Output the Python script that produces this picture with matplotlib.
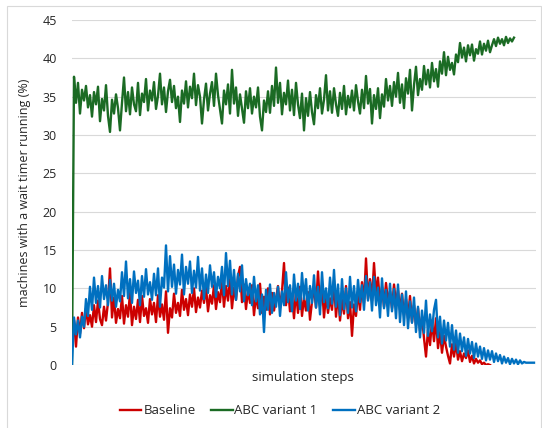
import numpy as np
import matplotlib
matplotlib.use("Agg")
import matplotlib.pyplot as plt
from matplotlib.patches import Rectangle

plt.rcParams['font.family'] = ['Open Sans', 'DejaVu Sans']

# values, one value every few simulation steps
baseline = [3, 5.8, 2.4, 6.2, 4.1, 6.8, 4.8, 7.4, 5.3, 6.5,
            5, 7.8, 5.6, 8.4, 6, 5.2, 7.6, 5.8, 8.2, 12.6,
            6.2, 8.8, 5.5, 7.3, 6.1, 9, 5.4, 7.8, 6.3, 9.4,
            5.2, 7.6, 6, 8.5, 5.6, 9, 6.4, 7.4, 5.5, 8.6,
            6.6, 8.1, 5.6, 9.1, 6.3, 7.9, 5.9, 9.6, 4.2, 7.4,
            6.2, 9.3, 6.8, 8.1, 6.4, 9.8, 7.2, 8.6, 6.5, 9.2,
            7.6, 10, 6.9, 8.8, 7.5, 9.7, 8.1, 10.2, 7, 9.1,
            8, 10.4, 7.3, 9.5, 8.2, 11, 7.6, 10.3, 8.4, 11.2,
            7.4, 10.1, 8.5, 11.6, 12.8, 8.2, 10.5, 7.3, 9.8, 8.1,
            10.4, 6.5, 9.1, 7.4, 10.6, 6.8, 8.9, 7.2, 10, 6.6,
            9.4, 7.1, 8.6, 10.3, 7.5, 9.6, 13.3, 7.8, 10.1, 7,
            9.2, 6.1, 9.7, 6.8, 10.2, 6.4, 8.8, 7.1, 9.5, 5.9,
            8.3, 10.2, 7.5, 12.2, 7.7, 10.4, 6.2, 9.1, 6.8, 8.7,
            7.2, 11, 6.3, 9.4, 5.8, 8.5, 6.7, 10.3, 6.1, 8.2,
            3.8, 7.9, 6.4, 9.6, 7.2, 10.8, 8.1, 13.9, 8.6, 11.2,
            8.4, 13.3, 9.2, 11.4, 8.1, 10.2, 7.6, 10.7, 8.3, 9.6,
            7.4, 10.5, 8, 9.8, 7.2, 9.3, 6.5, 8.6, 6.1, 9,
            5.6, 7.8, 5.2, 7.4, 4.5, 6.3, 3.5, 1.1, 4.6, 2.6,
            5.8, 3.1, 6.1, 2.2, 4.3, 1.6, 3.8, 2.4, 1.2, 0.2,
            2.7, 1.1, 2.9, 0.7, 1.8, 0.5, 1.5, 0.9, 1.9, 0.4,
            1.2, 0.2, 0.8, 0.3, 0.6, 0.1, 0.3, 0, 0.1, 0]

variant1 = [0, 37.6, 34.2, 36.8, 32.8, 35.9, 34.5, 36.4, 33.6, 35.2,
            32.4, 35.6, 34, 36.3, 31.8, 34.7, 33.2, 36.5, 32.5, 30.4,
            34.6, 32.8, 35.3, 33.5, 30.6, 34.2, 37.5, 33.1, 35.6, 32.7,
            36.2, 34, 33.1, 36.8, 32.6, 35.4, 34.3, 37.3, 33.2, 35.8,
            34.5, 36.9, 33.4, 35.1, 38, 34, 36.2, 33, 35.7, 37.2,
            34.3, 36.4, 33.5, 35, 31.7, 35.8, 34.1, 37, 33.6, 36.3,
            34.8, 38, 33.9, 36.5, 35, 31.5, 34.6, 36.7, 33.2, 35.4,
            36.9, 33.8, 38, 35.2, 33.4, 31.5, 35.8, 34, 36.6, 32.8,
            38.5, 34.1, 36.2, 32.5, 35.3, 33.4, 31.6, 35.7, 33.5, 36.1,
            32.8, 35, 33.6, 36.2, 32.4, 30.6, 34.5, 33, 35.7, 32.9,
            36.4, 33.8, 38.8, 34.2, 36.8, 32.7, 35.5, 34, 37.1, 33.2,
            35.9, 32.6, 36.8, 34, 32.2, 35.4, 30.6, 34.8, 32.5, 35.6,
            33, 31.4, 35.2, 33.5, 36.1, 32.8, 34.6, 37.8, 33.2, 35.7,
            32.9, 36.1, 34, 32.5, 35.5, 33.4, 36.4, 32.7, 35.1, 33.6,
            35.8, 33.2, 36.5, 34.4, 32.8, 35.9, 33.5, 37.7, 34.1, 36,
            31.5, 35.2, 33.4, 36.1, 32.2, 35.3, 33.7, 37.3, 34.5, 36.4,
            33.8, 36.9, 35, 38.1, 34.2, 36.6, 33.5, 37.4, 35.4, 38.5,
            33.2, 36.5, 38.9, 35.2, 37.3, 35.9, 39, 36.6, 38.5, 36.2,
            39.4, 37, 38.6, 36.3, 39.6, 38, 40.8, 37.8, 40.2, 38.5,
            39.4, 37.9, 40.5, 39.5, 42, 40.1, 41.4, 39.6, 41.7, 40.4,
            41.8, 39.7, 41.2, 40.6, 42.2, 40.5, 41.9, 41, 42.3, 40.8,
            41.7, 42.5, 41.6, 42.7, 41.9, 42.5, 41.7, 42.8, 42, 42.6,
            42.2, 42.7]

variant2 = [0, 6.2, 4, 5.8, 3.6, 6.3, 5, 8.6, 6.4, 10.2,
            7.2, 11.4, 8.1, 10.3, 7.5, 11.6, 8.6, 10.4, 7.8, 11.1,
            8.4, 10.6, 7.6, 9.8, 8.3, 12.1, 9, 13.5, 8.7, 11.2,
            8.1, 12.2, 9.4, 11, 7.8, 11.6, 8.9, 12.5, 9.2, 10.8,
            8.5, 11.9, 9.1, 12.6, 7.6, 11.4, 10.1, 15.6, 9.6, 14.2,
            10.2, 13.1, 9.3, 12.4, 10.5, 14.4, 9.2, 12.8, 10.6, 13.5,
            9.4, 12.3, 10.1, 14.1, 9.7, 12.6, 8.6, 11.8, 9.4, 13,
            10.2, 12.1, 8.9, 11.5, 10, 12.8, 9.1, 14.6, 10.3, 13.6,
            9.2, 12.4, 8.5, 11.9, 9.6, 13, 8.3, 11.2, 9.1, 10.6,
            7.8, 11.5, 8.3, 10.4, 6.6, 9.2, 4.3, 9.8, 7.2, 10.5,
            6.8, 9.4, 7.6, 10.2, 6.4, 9.6, 7.8, 12.1, 8.2, 10.4,
            7, 11.8, 8.4, 10.6, 7.3, 12, 8.6, 11.2, 7.1, 10.3,
            8.1, 11.7, 7.5, 10.2, 6.6, 12.1, 8.2, 10, 7.4, 11.4,
            8, 12.4, 7.6, 10.5, 6.5, 11.2, 7.3, 10, 6.8, 11.5,
            7.5, 10.3, 7, 11.1, 8.2, 10.4, 7.2, 11.6, 8.4, 10.8,
            7.1, 11.5, 7.8, 10.1, 6.2, 11.3, 7.4, 9.8, 6.4, 10.6,
            7, 9.9, 6.1, 10.5, 5.6, 9.2, 5.2, 9.6, 4.8, 8.3,
            5.5, 8.8, 4.3, 7.6, 3.6, 7.1, 4.2, 8.4, 3.8, 6.6,
            4.4, 7.2, 8.5, 3.6, 6.3, 2.8, 5.8, 3.2, 5.5, 2.4,
            5.2, 2, 4.5, 1.6, 4.1, 1.8, 3.6, 1.2, 3.4, 1.5,
            3, 0.9, 2.8, 1.1, 2.4, 0.8, 2.2, 0.6, 1.9, 0.7,
            1.8, 0.4, 1.5, 0.5, 1.3, 0.2, 1.1, 0.3, 0.9, 0.1,
            0.8, 0.2, 0.7, 0.1, 0.6, 0.2, 0.4, 0.3, 0.3, 0.3,
            0.3, 0.3]

labels = ["Baseline", "ABC variant 1", "ABC variant 2"]
colors = ["#CC0000", "#1B6B24", "#0070C0"]
yticks = np.arange(0, 50, 5)

fig = plt.figure(figsize=(5.42, 4.28), dpi=100)
ax = fig.add_axes([72/542, 1-365/428, 464/542, 345/428])

for s, lab, c in zip([baseline, variant1, variant2], labels, colors):
    ax.plot(np.arange(len(s)), s, color=c, lw=1.7, label=lab)

ax.set_xlim(0, 232)
ax.set_ylim(0, 45)
ax.set_yticks(yticks)
ax.set_xticks([])
ax.grid(axis='y', color='#D9D9D9', lw=0.8)
ax.set_axisbelow(True)
for sp in ax.spines.values():
    sp.set_visible(False)
ax.tick_params(axis='y', length=0, pad=11, labelsize=9, colors='#262626')

ax.set_ylabel("machines with a wait timer running (%)", fontsize=9, color='#262626')
ax.yaxis.set_label_coords(-0.088, 0.5)

fig.text(303/542, 1-377/428, "simulation steps", ha='center', va='center',
         fontsize=9.5, color='#262626')

fig.legend(loc='center', bbox_to_anchor=(280/542, 1-411/428), ncol=3, frameon=False,
           fontsize=9.5, handlelength=1.6, handletextpad=0.15, columnspacing=1.2,
           labelcolor='#262626')

fig.add_artist(Rectangle((7/542, -0.02), 534/542, 1.02-6/428, transform=fig.transFigure,
                         fill=False, ec='#D9D9D9', lw=0.8))

fig.savefig("out.png", dpi=100)
